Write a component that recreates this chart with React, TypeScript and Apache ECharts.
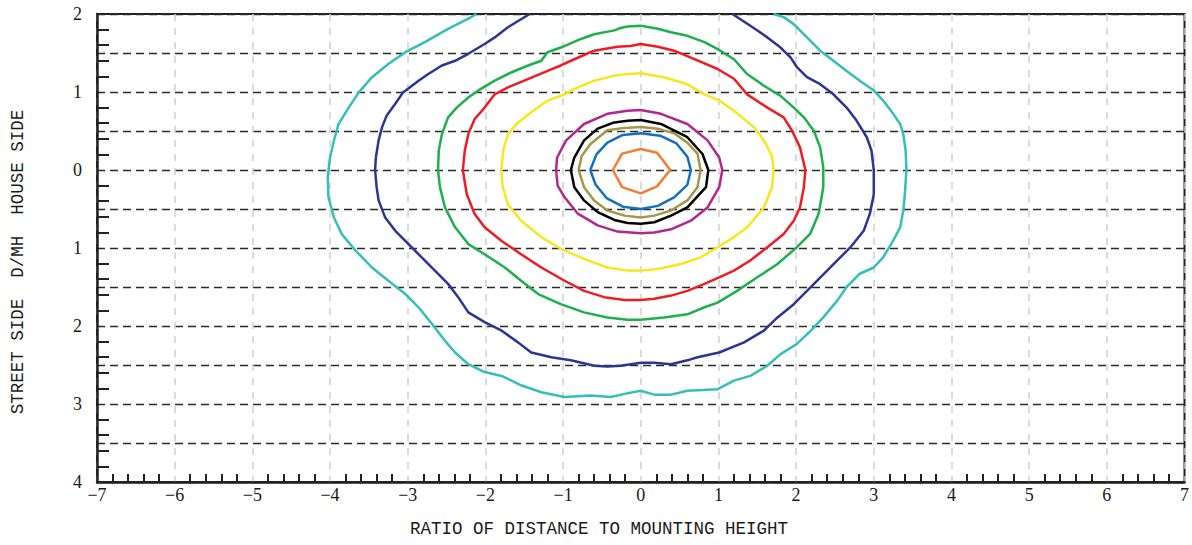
import React, { useEffect, useRef } from "react";
import * as echarts from "echarts";

// Axis ticks / labels
const xTickValues = [-7, -6, -5, -4, -3, -2, -1, 0, 1, 2, 3, 4, 5, 6, 7];
const yTickValues = [-4, -3, -2, -1, 0, 1, 2];
const yTickLabels = ["4", "3", "2", "1", "0", "1", "2"];
const xTitle = "RATIO OF DISTANCE TO MOUNTING HEIGHT";
const yTitle = "STREET SIDE  D/MH  HOUSE SIDE";

// Iso-contours (x = D/MH across, y = D/MH house(+)/street(-))
const contourOrange = [[-0.36,0],[-0.24,0.21],[0,0.27],[0.21,0.22],[0.38,0],[0.21,-0.21],[0,-0.30],[-0.24,-0.22]];
const contourBlue = [[-0.65,0],[-0.57,0.2],[-0.43,0.35],[-0.23,0.45],[0,0.47],[0.25,0.44],[0.46,0.34],[0.6,0.17],[0.645,0],[0.6,-0.19],[0.43,-0.35],[0.22,-0.46],[0,-0.5],[-0.23,-0.47],[-0.44,-0.36],[-0.58,-0.19]];
const contourOlive = [[-0.80,0],[-0.76,0.18],[-0.65,0.33],[-0.43,0.51],[-0.21,0.54],[0,0.55],[0.22,0.53],[0.43,0.47],[0.6,0.35],[0.73,0.21],[0.77,0],[0.73,-0.22],[0.6,-0.39],[0.39,-0.52],[0.175,-0.585],[0,-0.61],[-0.21,-0.585],[-0.43,-0.52],[-0.6,-0.39],[-0.73,-0.22]];
const contourBlack = [[-0.9,0],[-0.855,0.16],[-0.73,0.38],[-0.555,0.53],[-0.34,0.61],[-0.17,0.63],[0,0.64],[0.26,0.59],[0.6,0.42],[0.795,0.205],[0.87,0],[0.84,-0.22],[0.6,-0.48],[0.39,-0.585],[0.175,-0.67],[0,-0.69],[-0.17,-0.68],[-0.34,-0.64],[-0.555,-0.54],[-0.73,-0.39],[-0.855,-0.22]];
const contourMagenta = [[-1.09,0],[-1.077,0.16],[-0.96,0.38],[-0.73,0.59],[-0.43,0.72],[-0.17,0.76],[0,0.77],[0.26,0.72],[0.6,0.59],[0.86,0.38],[1.01,0.16],[1.05,0],[1.01,-0.22],[0.86,-0.48],[0.645,-0.65],[0.39,-0.76],[0.175,-0.8],[0,-0.81],[-0.3,-0.79],[-0.555,-0.71],[-0.81,-0.56],[-0.98,-0.35],[-1.07,-0.2]];
const contourYellow = [[-1.795,0],[-1.77,0.25],[-1.71,0.46],[-1.58,0.61],[-1.41,0.74],[-1.2,0.89],[-0.98,0.97],[-0.855,1.04],[-0.6,1.145],[-0.34,1.21],[-0.17,1.23],[0,1.24],[0.3,1.19],[0.6,1.1],[0.82,0.97],[1.01,0.89],[1.2,0.76],[1.455,0.55],[1.585,0.38],[1.69,0.18],[1.71,0],[1.69,-0.22],[1.585,-0.48],[1.37,-0.735],[1.2,-0.86],[0.99,-0.99],[0.77,-1.12],[0.52,-1.205],[0.22,-1.27],[0,-1.29],[-0.17,-1.29],[-0.43,-1.25],[-0.73,-1.14],[-1.03,-1.01],[-1.28,-0.86],[-1.54,-0.65],[-1.71,-0.44],[-1.78,-0.2]];
const contourRed = [[-2.29,0],[-2.265,0.25],[-2.22,0.46],[-2.14,0.65],[-2.01,0.8],[-1.88,0.97],[-1.71,1.06],[-1.5,1.145],[-1.2,1.27],[-1.03,1.34],[-0.855,1.42],[-0.6,1.53],[-0.3,1.58],[-0.13,1.59],[0,1.615],[0.22,1.58],[0.43,1.53],[0.645,1.44],[0.99,1.295],[1.2,1.17],[1.37,0.97],[1.63,0.8],[1.84,0.675],[1.95,0.5],[2.05,0.29],[2.12,0],[2.1,-0.22],[2.05,-0.48],[1.97,-0.65],[1.84,-0.82],[1.63,-0.99],[1.41,-1.16],[1.2,-1.29],[1.01,-1.376],[0.82,-1.46],[0.6,-1.55],[0.39,-1.61],[0.175,-1.65],[0,-1.667],[-0.21,-1.667],[-0.47,-1.63],[-0.73,-1.55],[-0.98,-1.42],[-1.28,-1.25],[-1.54,-1.08],[-1.79,-0.91],[-2.01,-0.735],[-2.14,-0.56],[-2.24,-0.31]];
const contourGreen = [[-2.61,0],[-2.6,0.25],[-2.56,0.46],[-2.48,0.675],[-2.37,0.8],[-2.22,0.93],[-2.09,1.02],[-1.88,1.145],[-1.67,1.25],[-1.45,1.34],[-1.28,1.4],[-1.2,1.51],[-1.03,1.57],[-0.77,1.68],[-0.6,1.74],[-0.34,1.79],[-0.26,1.82],[-0.17,1.84],[0,1.85],[0.22,1.81],[0.39,1.765],[0.6,1.72],[0.82,1.64],[0.99,1.55],[1.2,1.42],[1.37,1.23],[1.585,1.08],[1.8,0.95],[1.97,0.8],[2.1,0.675],[2.23,0.5],[2.31,0.29],[2.35,0.03],[2.35,-0.22],[2.29,-0.56],[2.18,-0.82],[2.01,-0.99],[1.76,-1.205],[1.5,-1.376],[1.24,-1.55],[0.99,-1.7],[0.82,-1.76],[0.6,-1.85],[0.3,-1.89],[0,-1.92],[-0.17,-1.92],[-0.43,-1.89],[-0.73,-1.825],[-1.03,-1.72],[-1.32,-1.59],[-1.54,-1.42],[-1.75,-1.25],[-2.01,-1.08],[-2.22,-0.95],[-2.39,-0.735],[-2.52,-0.48],[-2.585,-0.22]];
const contourNavy = [[-1.43,2],[-1.71,1.83],[-1.88,1.7],[-2.01,1.615],[-2.22,1.49],[-2.39,1.4],[-2.56,1.34],[-2.735,1.23],[-2.86,1.145],[-3.06,0.995],[-3.16,0.85],[-3.27,0.7],[-3.33,0.55],[-3.375,0.376],[-3.41,0.16],[-3.42,0],[-3.4,-0.22],[-3.375,-0.39],[-3.29,-0.61],[-3.16,-0.78],[-2.99,-0.95],[-2.82,-1.12],[-2.65,-1.29],[-2.48,-1.46],[-2.35,-1.63],[-2.22,-1.825],[-2.01,-1.95],[-1.79,-2.06],[-1.58,-2.21],[-1.41,-2.34],[-1.15,-2.4],[-0.9,-2.44],[-0.6,-2.51],[-0.43,-2.52],[-0.256,-2.51],[0,-2.47],[0.175,-2.47],[0.39,-2.49],[0.6,-2.44],[0.73,-2.4],[1.01,-2.34],[1.33,-2.21],[1.585,-2.06],[1.76,-1.89],[1.97,-1.72],[2.14,-1.55],[2.31,-1.38],[2.53,-1.16],[2.7,-0.99],[2.87,-0.78],[2.95,-0.56],[3,-0.31],[3,0],[2.97,0.25],[2.91,0.42],[2.78,0.63],[2.65,0.8],[2.48,0.97],[2.31,1.1],[2.14,1.19],[2.01,1.32],[1.93,1.44],[1.8,1.57],[1.63,1.7],[1.44,1.83],[1.18,2]];
const contourTeal = [[-2.115,2],[-2.22,1.94],[-2.48,1.81],[-2.78,1.64],[-3.03,1.51],[-3.25,1.36],[-3.46,1.19],[-3.63,0.995],[-3.76,0.8],[-3.89,0.59],[-3.95,0.376],[-4,0.16],[-4.03,-0.09],[-4.02,-0.35],[-3.95,-0.61],[-3.85,-0.82],[-3.675,-1.03],[-3.46,-1.25],[-3.25,-1.42],[-3.03,-1.59],[-2.86,-1.76],[-2.69,-1.97],[-2.52,-2.19],[-2.39,-2.34],[-2.22,-2.49],[-2.01,-2.59],[-1.79,-2.64],[-1.54,-2.76],[-1.28,-2.85],[-0.98,-2.91],[-0.64,-2.89],[-0.385,-2.91],[-0.21,-2.87],[0,-2.83],[0.175,-2.88],[0.39,-2.88],[0.6,-2.83],[0.99,-2.81],[1.2,-2.7],[1.41,-2.64],[1.63,-2.51],[1.8,-2.36],[2.01,-2.23],[2.19,-2.06],[2.35,-1.89],[2.53,-1.675],[2.65,-1.5],[2.82,-1.33],[3,-1.25],[3.12,-1.12],[3.25,-0.905],[3.34,-0.735],[3.38,-0.52],[3.4,-0.31],[3.42,0],[3.41,0.25],[3.38,0.46],[3.34,0.59],[3.25,0.72],[3.12,0.89],[3,1.02],[2.82,1.145],[2.65,1.27],[2.48,1.4],[2.31,1.53],[2.14,1.7],[1.97,1.87],[1.84,1.96],[1.71,2]];

const contours = [
  { name: "c1", data: contourOrange, closed: true, color: "#f47d30" },
  { name: "c2", data: contourBlue, closed: true, color: "#1370bf" },
  { name: "c3", data: contourOlive, closed: true, color: "#a3974a" },
  { name: "c4", data: contourBlack, closed: true, color: "#000000" },
  { name: "c5", data: contourMagenta, closed: true, color: "#b3278f" },
  { name: "c6", data: contourYellow, closed: true, color: "#f8e71c" },
  { name: "c7", data: contourRed, closed: true, color: "#ee1d25" },
  { name: "c8", data: contourGreen, closed: true, color: "#1cb14c" },
  { name: "c9", data: contourNavy, closed: false, color: "#2b3692" },
  { name: "c10", data: contourTeal, closed: false, color: "#35bfb8" },
];

export default function App() {
  const ref = useRef<HTMLDivElement>(null);
  useEffect(() => {
    document.body.style.margin = "0";
    if (!ref.current) return;
    const chart = echarts.init(ref.current, undefined, { renderer: "svg" });
    const labelFont = "'Liberation Serif', 'Times New Roman', serif";
    const titleFont = "'Liberation Mono', 'DejaVu Sans Mono', monospace";
    const option: any = {
      animation: false,
      backgroundColor: "#ffffff",
      grid: {
        left: 97,
        right: 3,
        top: 14,
        bottom: 63,
        show: true,
        borderColor: "#222222",
        borderWidth: 2,
        backgroundColor: "transparent",
      },
      xAxis: {
        type: "value",
        min: xTickValues[0],
        max: xTickValues[xTickValues.length - 1],
        interval: 1,
        axisLine: { show: true, onZero: false, lineStyle: { color: "#222222", width: 2.5 } },
        axisTick: { show: false, inside: true },
        minorTick: { show: true, splitNumber: 5, length: 8, lineStyle: { color: "#222222", width: 2 } },
        axisLabel: {
          margin: 4,
          fontFamily: labelFont,
          fontSize: 18,
          color: "#1a1a1a",
          formatter: (v: number) => {
            const i = xTickValues.indexOf(Math.round(v));
            const val = i >= 0 ? xTickValues[i] : v;
            return val < 0 ? "\u2212" + Math.abs(val) : String(val);
          },
        },
        splitLine: { show: true, lineStyle: { color: "#cfcfcf", width: 1.5, type: [7, 7] } },
      },
      yAxis: [
        {
          type: "value",
          min: yTickValues[0],
          max: yTickValues[yTickValues.length - 1],
          interval: 1,
          axisLine: { show: true, onZero: false, lineStyle: { color: "#222222", width: 2.5 } },
          axisTick: { show: false, inside: true },
          minorTick: { show: true, splitNumber: 5, length: 12, lineStyle: { color: "#222222", width: 2 } },
          axisLabel: {
            margin: 15,
            fontFamily: labelFont,
            fontSize: 18,
            color: "#1a1a1a",
            formatter: (v: number) => {
              const i = yTickValues.indexOf(Math.round(v));
              return i >= 0 ? yTickLabels[i] : "";
            },
          },
          splitLine: { show: false },
        },
        {
          type: "value",
          min: yTickValues[0],
          max: yTickValues[yTickValues.length - 1],
          interval: 0.5,
          position: "left",
          axisLine: { show: false },
          axisTick: { show: false },
          axisLabel: { show: false },
          splitLine: { show: true, lineStyle: { color: "#2a2a2a", width: 1.3, type: [8, 5] } },
        },
      ],
      series: contours.map((c) => ({
        name: c.name,
        type: "line",
        xAxisIndex: 0,
        yAxisIndex: 0,
        data: c.closed ? [...c.data, c.data[0]] : c.data,
        showSymbol: false,
        symbol: "none",
        smooth: false,
        clip: true,
        lineStyle: { color: c.color, width: 2.5 },
        silent: true,
      })),
      graphic: [
        {
          type: "text",
          left: 410,
          top: 520,
          style: { text: xTitle, font: `17.5px ${titleFont}`, fill: "#1a1a1a" },
        },
        {
          type: "text",
          x: 18,
          y: 262,
          rotation: Math.PI / 2,
          style: {
            text: yTitle,
            font: `17.5px ${titleFont}`,
            fill: "#1a1a1a",
            align: "center",
            verticalAlign: "middle",
          },
        },
      ],
    };
    chart.setOption(option);
    return () => chart.dispose();
  }, []);
  return <div ref={ref} style={{ width: 1192, height: 545 }} />;
}
